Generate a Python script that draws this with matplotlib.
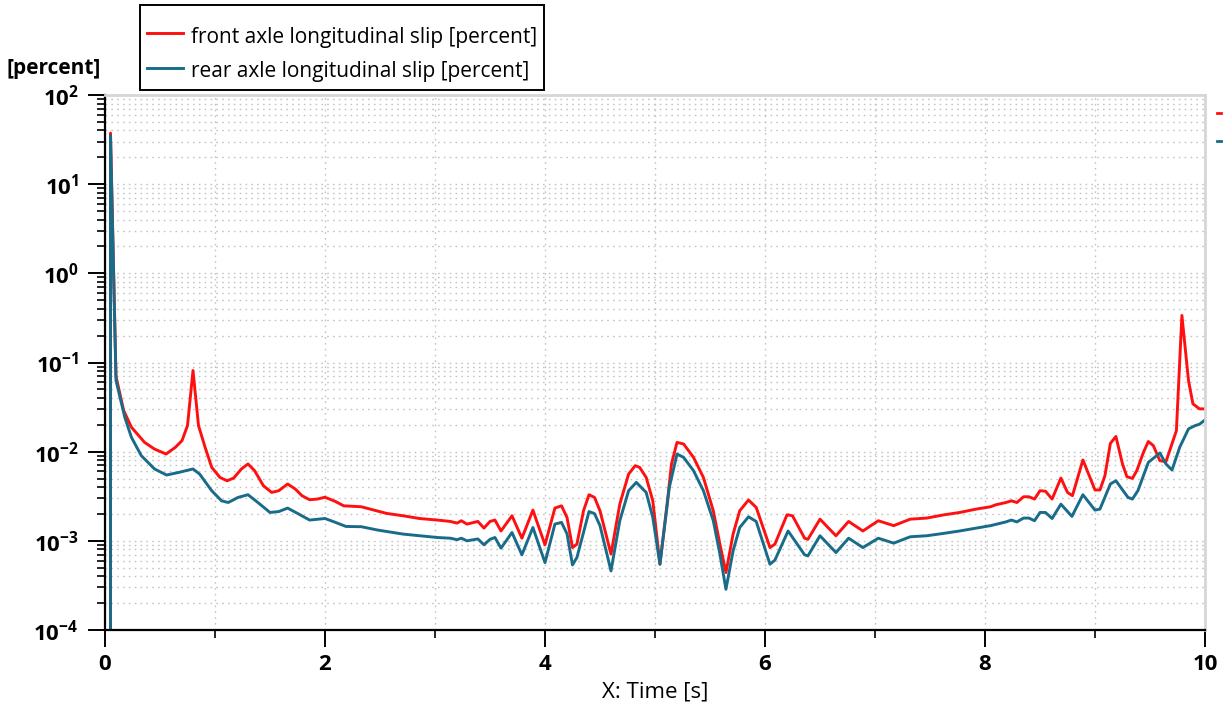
import math
import matplotlib
matplotlib.use("Agg")
import matplotlib.pyplot as plt
from matplotlib.ticker import FixedLocator, FuncFormatter, NullFormatter
from matplotlib.lines import Line2D

plt.rcParams["font.family"] = ["Open Sans", "DejaVu Sans"]
plt.rcParams["mathtext.fontset"] = "custom"
plt.rcParams["mathtext.rm"] = "Open Sans"
plt.rcParams["mathtext.bf"] = "Open Sans:bold"

# ---- data: longitudinal slip per axle over time ----
t_front = [0.0, 0.05, 0.10, 0.17, 0.24, 0.36, 0.45, 0.555, 0.64, 0.70,
           0.75, 0.80, 0.85, 0.91, 0.97, 1.045, 1.11, 1.17, 1.24, 1.30,
           1.36, 1.44, 1.515, 1.58, 1.66, 1.73, 1.79, 1.86, 1.93, 2.0,
           2.09, 2.17, 2.33, 2.41, 2.56, 2.71, 2.86, 3.02, 3.14, 3.20,
           3.24, 3.29, 3.39, 3.445, 3.50, 3.545, 3.60, 3.70, 3.79, 3.89,
           4.00, 4.09, 4.15, 4.20, 4.25, 4.29, 4.35, 4.40, 4.45, 4.50,
           4.60, 4.68, 4.76, 4.82, 4.86, 4.92, 4.98, 5.045, 5.11, 5.15,
           5.20, 5.26, 5.35, 5.44, 5.53, 5.59, 5.645, 5.71, 5.77, 5.85,
           5.92, 6.045, 6.09, 6.20, 6.25, 6.36, 6.39, 6.50, 6.645, 6.76,
           6.89, 7.03, 7.17, 7.32, 7.47, 7.62, 7.77, 7.92, 8.05, 8.10,
           8.19, 8.24, 8.29, 8.35, 8.40, 8.45, 8.50, 8.55, 8.61, 8.69,
           8.75, 8.795, 8.89, 9.0, 9.045, 9.09, 9.14, 9.19, 9.25, 9.29,
           9.34, 9.38, 9.44, 9.485, 9.53, 9.59, 9.645, 9.74, 9.79, 9.85,
           9.89, 9.95, 10.0]
slip_front = [0.0, 37.4, 0.0697, 0.0289, 0.0188, 0.0127, 0.0107, 0.00941, 0.0112, 0.0133,
              0.0196, 0.0813, 0.0196, 0.0112, 0.00667, 0.00514, 0.00472, 0.00506, 0.0064, 0.00728,
              0.00612, 0.00415, 0.00349, 0.00365, 0.00434, 0.00381, 0.00321, 0.00289, 0.00294, 0.00308,
              0.00278, 0.00247, 0.00241, 0.00227, 0.00203, 0.00191, 0.00178, 0.00171, 0.00165, 0.00158,
              0.00168, 0.00154, 0.00165, 0.00139, 0.00165, 0.00171, 0.00129, 0.00191, 0.00107, 0.00221,
              0.000902, 0.00233, 0.00247, 0.00183, 0.000841, 0.000918, 0.00217, 0.00329, 0.00307, 0.00217,
              0.00071, 0.00258, 0.00561, 0.00696, 0.00667, 0.00514, 0.00281, 0.000547, 0.00258, 0.00728,
              0.0127, 0.0122, 0.00863, 0.00514, 0.00217, 0.000918, 0.000441, 0.00119, 0.00217, 0.00287,
              0.00237, 0.000841, 0.000918, 0.00196, 0.00191, 0.00107, 0.00104, 0.00175, 0.00114, 0.00165,
              0.00129, 0.00168, 0.00148, 0.00175, 0.0018, 0.00195, 0.00208, 0.00227, 0.00241, 0.00254,
              0.00269, 0.00281, 0.00269, 0.00312, 0.00312, 0.00294, 0.00365, 0.0036, 0.00294, 0.00506,
              0.00349, 0.00321, 0.00807, 0.00372, 0.00372, 0.00537, 0.0124, 0.0148, 0.00728, 0.00524,
              0.00501, 0.00612, 0.00981, 0.013, 0.0117, 0.00792, 0.00772, 0.0172, 0.337, 0.0628,
              0.0344, 0.0302, 0.0302]

t_rear = [0.0, 0.05, 0.10, 0.18, 0.24, 0.33, 0.45, 0.56, 0.67, 0.80,
          0.86, 0.97, 1.06, 1.12, 1.21, 1.30, 1.39, 1.50, 1.58, 1.66,
          1.76, 1.86, 2.0, 2.09, 2.19, 2.33, 2.48, 2.71, 3.02, 3.14,
          3.20, 3.24, 3.29, 3.39, 3.445, 3.50, 3.545, 3.60, 3.70, 3.79,
          3.89, 4.00, 4.09, 4.15, 4.20, 4.25, 4.29, 4.40, 4.45, 4.50,
          4.60, 4.68, 4.76, 4.83, 4.92, 4.98, 5.045, 5.13, 5.20, 5.26,
          5.35, 5.44, 5.53, 5.59, 5.645, 5.71, 5.77, 5.85, 5.92, 6.045,
          6.09, 6.21, 6.36, 6.39, 6.50, 6.645, 6.76, 6.89, 7.03, 7.17,
          7.32, 7.47, 7.62, 7.77, 8.05, 8.19, 8.24, 8.29, 8.35, 8.40,
          8.45, 8.50, 8.55, 8.61, 8.69, 8.79, 8.89, 9.0, 9.045, 9.14,
          9.19, 9.30, 9.34, 9.39, 9.485, 9.59, 9.645, 9.70, 9.77, 9.85,
          9.91, 9.95, 10.0]
slip_rear = [0.0, 35.0, 0.0628, 0.0243, 0.0145, 0.00902, 0.0064, 0.00547, 0.00585, 0.0064,
             0.00561, 0.00365, 0.00281, 0.00269, 0.00307, 0.00329, 0.00269, 0.00208, 0.00213, 0.00233,
             0.002, 0.00171, 0.00178, 0.00162, 0.00145, 0.00144, 0.00132, 0.00119, 0.00109, 0.00107,
             0.00103, 0.00107, 0.001, 0.00105, 0.000902, 0.00104, 0.00109, 0.000828, 0.00124, 0.000697,
             0.00141, 0.00057, 0.00154, 0.00161, 0.0012, 0.000537, 0.000649, 0.00213, 0.00202, 0.00148,
             0.00046, 0.00168, 0.00365, 0.00452, 0.00349, 0.00183, 0.000547, 0.00397, 0.00941, 0.00863,
             0.00612, 0.00365, 0.00168, 0.00071, 0.000286, 0.000773, 0.00141, 0.00186, 0.00165, 0.000547,
             0.000607, 0.00129, 0.000697, 0.000678, 0.00114, 0.000739, 0.00107, 0.000841, 0.00107, 0.000942,
             0.00111, 0.00114, 0.00121, 0.00129, 0.00148, 0.00163, 0.00171, 0.00163, 0.0018, 0.0018,
             0.00168, 0.00208, 0.00208, 0.00178, 0.00258, 0.00188, 0.00329, 0.00221, 0.00227, 0.00434,
             0.00472, 0.00307, 0.00294, 0.00365, 0.00759, 0.00966, 0.00728, 0.00622, 0.0112, 0.018,
             0.0196, 0.0203, 0.0227]

series_labels = ["front axle longitudinal slip [percent]",
                 "rear axle longitudinal slip [percent]"]
x_major_ticks = [0, 2, 4, 6, 8, 10]
x_minor_ticks = [1, 3, 5, 7, 9]
y_decades = [-4, -3, -2, -1, 0, 1, 2]

RED = "#ff1010"
TEAL = "#186c8a"

W, H = 1224, 710
fig = plt.figure(figsize=(W / 100, H / 100), dpi=100)
ax = fig.add_axes([105 / W, 1 - 630 / H, 1100 / W, 535 / H])

ax.plot(t_front, slip_front, color=RED, lw=2.1, label=series_labels[0], solid_joinstyle="round")
ax.plot(t_rear, slip_rear, color=TEAL, lw=2.1, label=series_labels[1], solid_joinstyle="round")

ax.set_yscale("log", nonpositive="clip")
ax.set_xlim(0, 10)
ax.set_ylim(1e-4, 1e2)

ax.xaxis.set_major_locator(FixedLocator(x_major_ticks))
ax.xaxis.set_minor_locator(FixedLocator(x_minor_ticks))
ax.yaxis.set_major_locator(FixedLocator([10.0 ** d for d in y_decades]))
ax.yaxis.set_minor_locator(FixedLocator(
    [m * 10.0 ** d for d in y_decades[:-1] for m in range(2, 10)]))
ax.yaxis.set_minor_formatter(NullFormatter())
ax.yaxis.set_major_formatter(FuncFormatter(
    lambda v, p: r"$\mathbf{10^{%d}}$" % round(math.log10(v))))
ax.xaxis.set_major_formatter(FuncFormatter(lambda v, p: "%d" % v))

ax.tick_params(axis="both", which="major", direction="out", length=12, width=1.4,
               color="black", labelsize=16, pad=5)
ax.tick_params(axis="y", which="major", pad=7)
ax.tick_params(axis="both", which="minor", direction="out", length=6, width=1.2,
               color="black")
for lab in ax.get_xticklabels():
    lab.set_fontweight("bold")

ax.set_axisbelow(True)
grid_kw = dict(color="#c4c4c4", linestyle=(0, (1.2, 3.0)), linewidth=1.0)
ax.grid(True, which="both", axis="both", **grid_kw)

for side in ("left", "bottom"):
    ax.spines[side].set_color("black")
    ax.spines[side].set_linewidth(1.6)
for side in ("top", "right"):
    ax.spines[side].set_color("#d6d6d6")
    ax.spines[side].set_linewidth(2.0)

# axis titles
fig.text(7 / W, 1 - 74 / H, "[percent]", fontsize=15, fontweight="bold",
         ha="left", va="baseline")
fig.text(655 / W, 1 - 692 / H, "X: Time [s]", fontsize=16, ha="center", va="center")

# legend above the plot; a tiny blank title gives the extra top margin
leg = fig.legend(loc="upper left", bbox_to_anchor=(140 / W, 1 - 5 / H),
                 fontsize=15, frameon=True, fancybox=False, borderaxespad=0,
                 handlelength=1.7, handleheight=1.45, handletextpad=0.4,
                 labelspacing=0.48, borderpad=0.35,
                 title=" ", title_fontsize=1)
leg.get_frame().set_edgecolor("black")
leg.get_frame().set_linewidth(1.4)
leg.get_frame().set_alpha(1)

# small series markers at the right edge
fig.add_artist(Line2D([1217 / W, 1221 / W], [1 - 113 / H, 1 - 113 / H],
                      color=RED, lw=2.0, transform=fig.transFigure))
fig.add_artist(Line2D([1217 / W, 1221 / W], [1 - 141 / H, 1 - 141 / H],
                      color=TEAL, lw=2.0, transform=fig.transFigure))

fig.savefig("out.png", dpi=100)
